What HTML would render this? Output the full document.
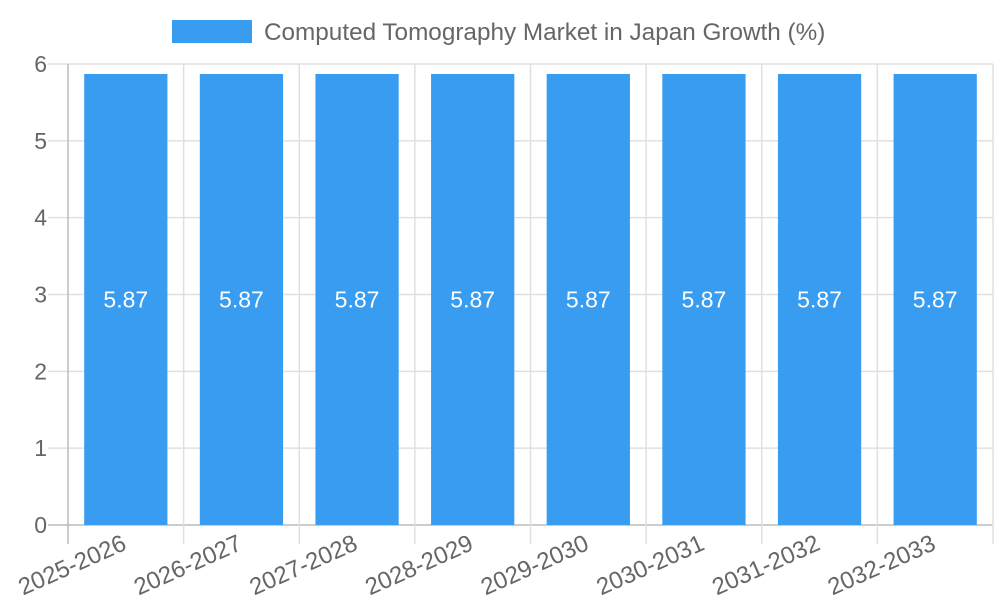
<!DOCTYPE html>
<html><head><meta charset="utf-8"><style>body{margin:0;background:#fff}svg{display:block;font-family:"Liberation Sans",sans-serif}</style></head>
<body>
<svg id="chart" width="1000" height="600" viewBox="0 0 1000 600">
<rect x="172" y="20" width="80" height="23" fill="#389cf0"/>
<text x="264" y="40" font-size="24.3" fill="#666">Computed Tomography Market in Japan Growth (%)</text>
<g id="grid"></g><g id="bars"></g><g id="labels"></g>
</svg>
<script>
const categories=["2025-2026","2026-2027","2027-2028","2028-2029","2029-2030","2030-2031","2031-2032","2032-2033"];
const values=[5.87,5.87,5.87,5.87,5.87,5.87,5.87,5.87];
const yTicks=[0,1,2,3,4,5,6];
const NS="http://www.w3.org/2000/svg";
const L=68,R=993,T=64,B=525,yMax=6;
const y=v=>B-(v/yMax)*(B-T);
const cw=(R-L)/categories.length;
const x=i=>L+i*cw;
function mk(t,a,p){const e=document.createElementNS(NS,t);for(const k in a)e.setAttribute(k,a[k]);p.appendChild(e);return e;}
const g=document.getElementById('grid'),bg=document.getElementById('bars'),lg=document.getElementById('labels');
yTicks.forEach(t=>{
 const ln=mk('line',{x1:48,x2:R,y1:y(t),y2:y(t),stroke:t===0?'#bbb':'#e0e0e0','stroke-width':1.5},g);
 
 
 const tx=mk('text',{x:47,y:y(t)+8,'text-anchor':'end','font-size':23,fill:'#666'},g);tx.textContent=t;
 
 
});
for(let i=0;i<=categories.length;i++){
 const ln=mk('line',{x1:x(i),x2:x(i),y1:T,y2:544,stroke:i===0?'#bbb':'#e0e0e0','stroke-width':1.5},g);
 
 
}
categories.forEach((c,i)=>{
 const bw=cw*0.72,bx=x(i)+(cw-bw)/2;
 const r=mk('rect',{x:bx,y:y(values[i]),width:bw,height:B-y(values[i]),fill:'#389cf0'},bg);
 
 
 const v=mk('text',{x:x(i)+cw/2,y:(y(values[i])+B)/2+8,'text-anchor':'middle','font-size':23,fill:'#fff'},lg);v.textContent=values[i];
 
 
 const cx=x(i)+cw/2+2,cy=549;
 const t=mk('text',{x:cx,y:cy,'text-anchor':'end','font-size':24,fill:'#666',transform:`rotate(-24 ${cx} ${cy})`},lg);t.textContent=c;
 
 
});
</script>
</body></html>
